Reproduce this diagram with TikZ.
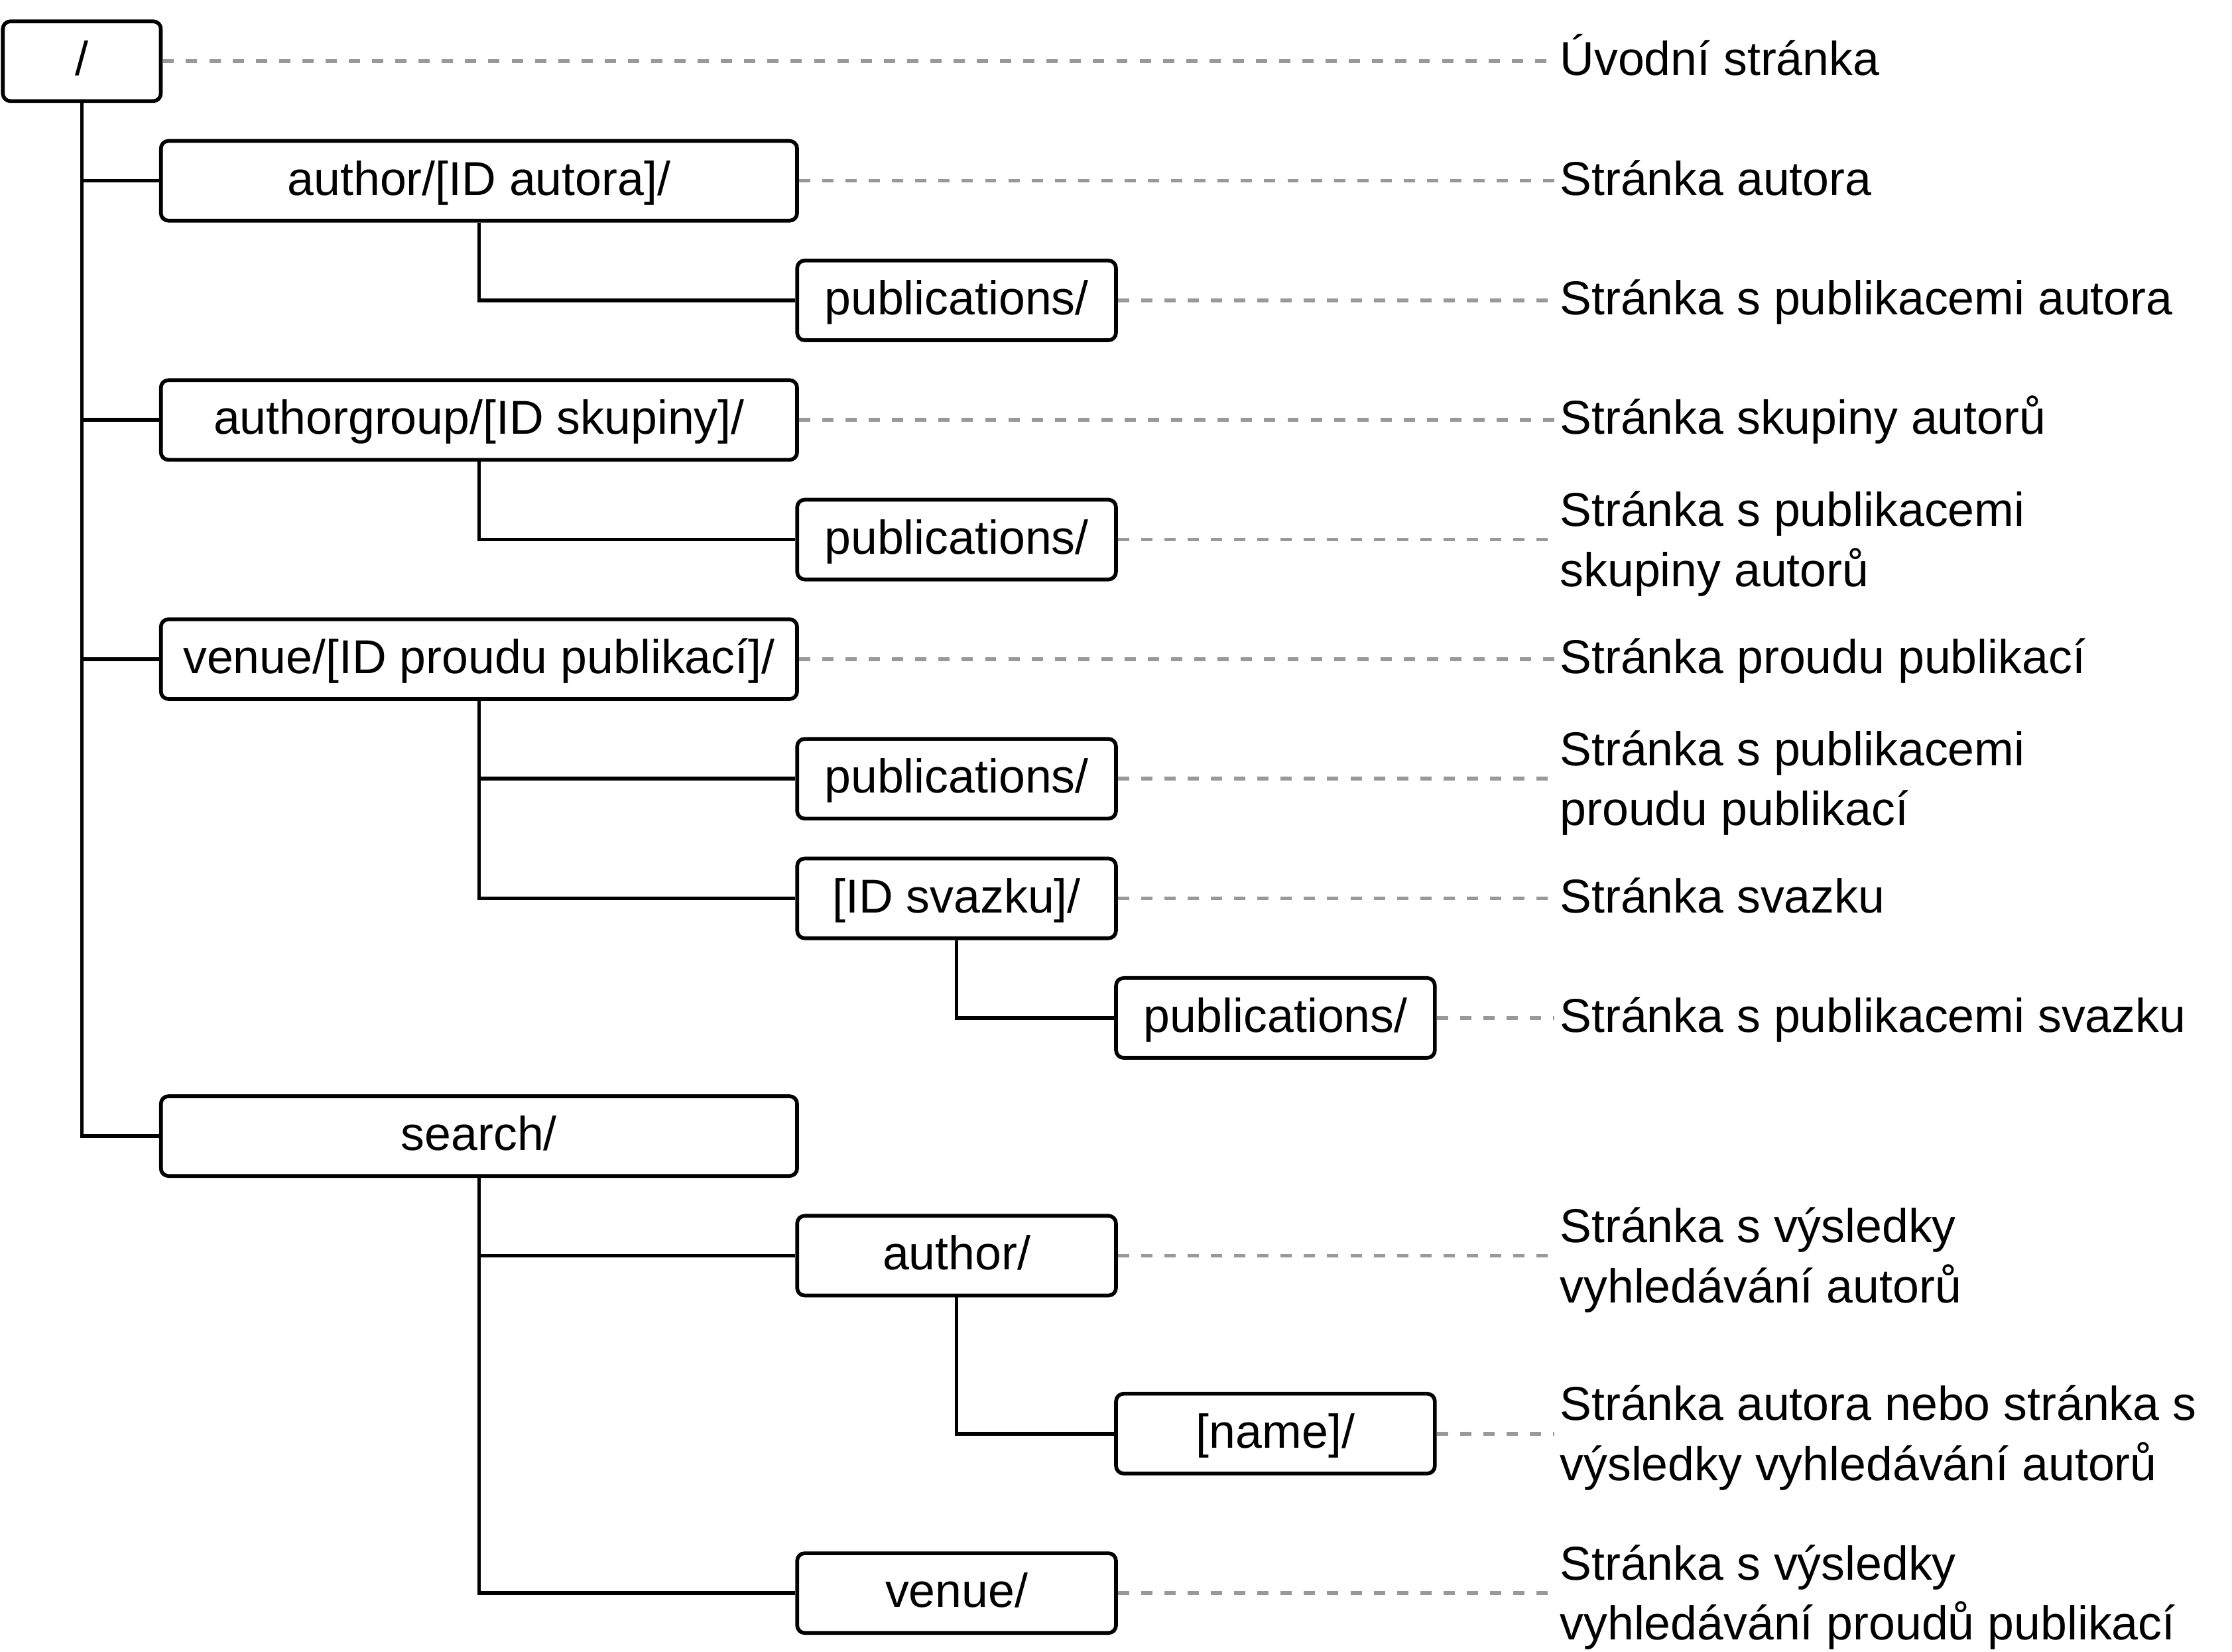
\documentclass[tikz,border=0pt]{standalone}
\usepackage{fontspec}
\setmainfont{Liberation Sans}
\tikzset{urlbox/.style={draw, line width=1.5pt, rounded corners=3pt, minimum height=1.12cm, inner sep=0pt, fill=white, text height=15.2pt, text depth=3.8pt, font=\fontsize{19}{24}\selectfont}}
\tikzset{urlbox0/.style={urlbox, minimum width=2.22cm}}
\tikzset{urlbox1/.style={urlbox, minimum width=8.94cm}}
\tikzset{urlbox2/.style={urlbox, minimum width=4.48cm}}
\tikzset{pagedesc/.style={anchor=west, align=left, inner sep=2pt, font=\fontsize{19}{24}\selectfont}}
\tikzset{pagedesc1/.style={pagedesc, text height=15.2pt, text depth=3.8pt}}
\tikzset{pagedesc2/.style={pagedesc, yshift=-0.06cm}}
\tikzset{branch/.style={draw, line width=1.5pt}}
\tikzset{descline/.style={draw=black!40, line width=1.5pt, dash pattern=on 4.5pt off 4.8pt}}

\begin{document}
\begin{tikzpicture}[x=0.02cm, y=-0.02cm]
	\useasboundingbox (0,0) rectangle (1568,1160);
	% url tree
	\node[urlbox0] (root) at (57.5,43) {/};
	\node[urlbox1] (author) at (336.5,127) {author/[ID autora]/};
	\node[urlbox2] (authorpub) at (672,211) {publications/};
	\node[urlbox1] (group) at (336.5,295) {authorgroup/[ID skupiny]/};
	\node[urlbox2] (grouppub) at (672,379) {publications/};
	\node[urlbox1] (venue) at (336.5,463) {venue/[ID proudu publikací]/};
	\node[urlbox2] (venuepub) at (672,547) {publications/};
	\node[urlbox2] (volume) at (672,631) {[ID svazku]/};
	\node[urlbox2] (volumepub) at (896,715) {publications/};
	\node[urlbox1] (search) at (336.5,798) {search/};
	\node[urlbox2] (sauthor) at (672,882) {author/};
	\node[urlbox2] (sname) at (896,1007) {[name]/};
	\node[urlbox2] (svenue) at (672,1119) {venue/};
%
	\draw[branch] (root.south) |- (author.west);
	\draw[branch] (root.south) |- (group.west);
	\draw[branch] (root.south) |- (venue.west);
	\draw[branch] (root.south) |- (search.west);
	\draw[branch] (author.south) |- (authorpub.west);
	\draw[branch] (group.south) |- (grouppub.west);
	\draw[branch] (venue.south) |- (venuepub.west);
	\draw[branch] (venue.south) |- (volume.west);
	\draw[branch] (volume.south) |- (volumepub.west);
	\draw[branch] (search.south) |- (sauthor.west);
	\draw[branch] (search.south) |- (svenue.west);
	\draw[branch] (sauthor.south) |- (sname.west);
	% page descriptions
	\node[pagedesc1] (droot) at (1092,43) {Úvodní stránka};
	\node[pagedesc1] (dauthor) at (1092,127) {Stránka autora};
	\node[pagedesc1] (dauthorpub) at (1092,211) {Stránka s publikacemi autora};
	\node[pagedesc1] (dgroup) at (1092,295) {Stránka skupiny autorů};
	\node[pagedesc2] (dgrouppub) at (1092,379) {Stránka s publikacemi\\skupiny autorů};
	\node[pagedesc1] (dvenue) at (1092,463) {Stránka proudu publikací};
	\node[pagedesc2] (dvenuepub) at (1092,547) {Stránka s publikacemi\\proudu publikací};
	\node[pagedesc1] (dvolume) at (1092,631) {Stránka svazku};
	\node[pagedesc1] (dvolumepub) at (1092,715) {Stránka s publikacemi svazku};
	\node[pagedesc2] (dsauthor) at (1092,882) {Stránka s výsledky\\vyhledávání autorů};
	\node[pagedesc2] (dsname) at (1092,1007) {Stránka autora nebo stránka s\\výsledky vyhledávání autorů};
	\node[pagedesc2] (dsvenue) at (1092,1119) {Stránka s výsledky\\vyhledávání proudů publikací};
%
	\foreach \a/\b in {root/droot, author/dauthor, authorpub/dauthorpub, group/dgroup, grouppub/dgrouppub, venue/dvenue, venuepub/dvenuepub, volume/dvolume, volumepub/dvolumepub, sauthor/dsauthor, sname/dsname, svenue/dsvenue}
		\draw[descline] (\a.east) -- (\b.west |- \a.east);
\end{tikzpicture}
\end{document}
